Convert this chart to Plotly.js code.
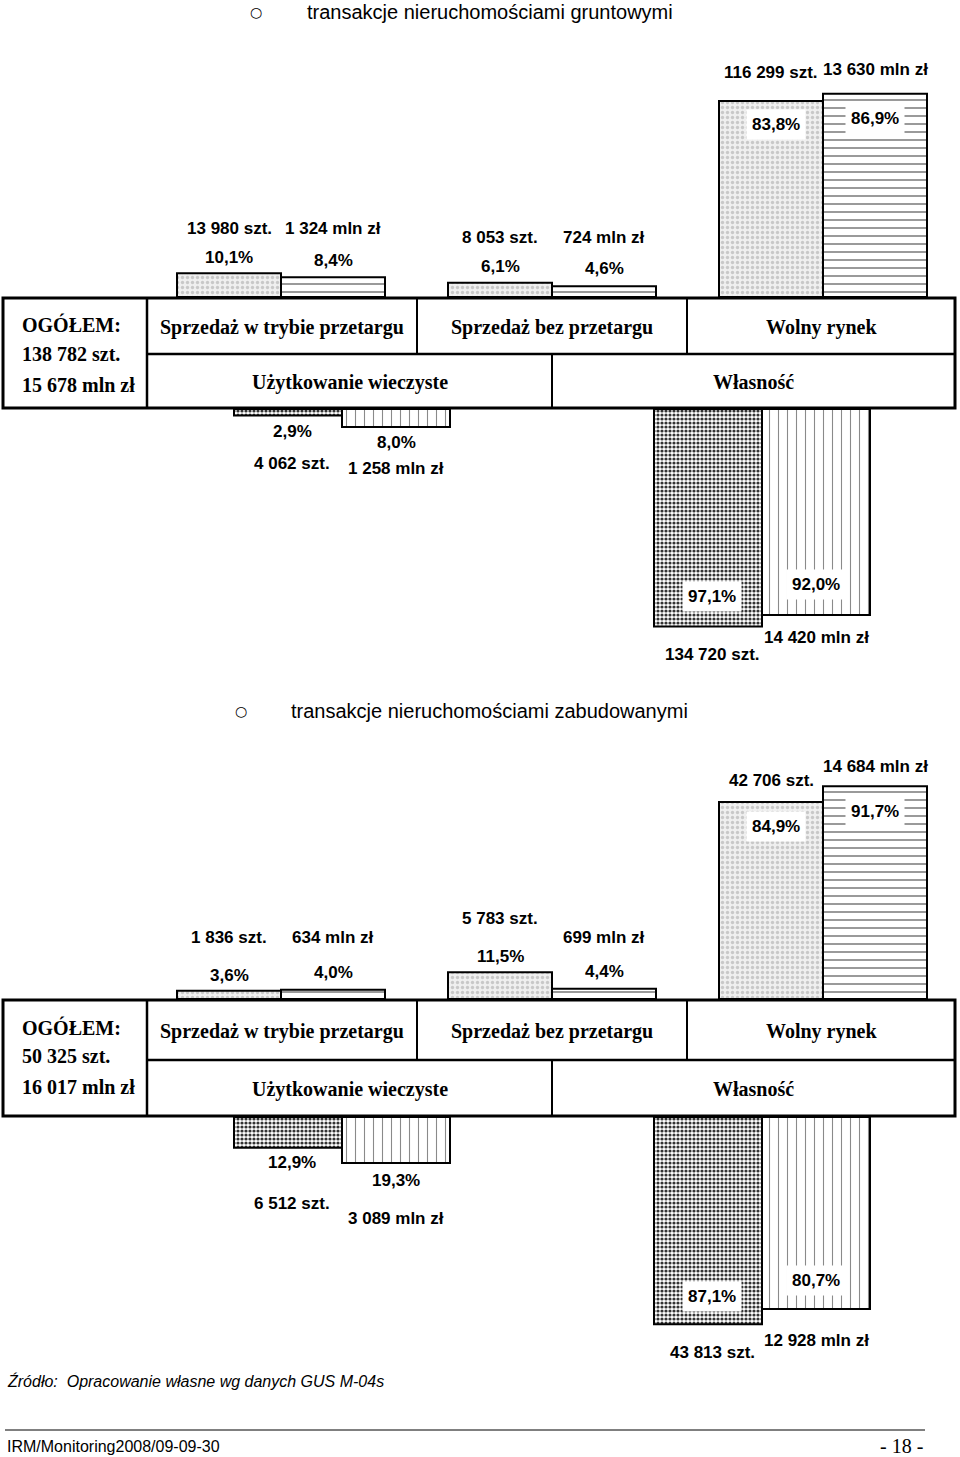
<!DOCTYPE html>
<html>
<head>
<meta charset="utf-8">
<script src="https://cdn.plot.ly/plotly-3.0.1.min.js"></script>
<style>
  html, body { margin: 0; padding: 0; background: #fff; }
  #chart { width: 960px; height: 1457px; }
</style>
</head>
<body>
<div id="chart"></div>
<script>
// ---- data ----
const groupsTop = ['Sprzedaż w trybie przetargu', 'Sprzedaż bez przetargu', 'Wolny rynek'];
const groupsBottom = ['Użytkowanie wieczyste', 'Własność'];

// nieruchomości gruntowe
const gruntSztTop = [13980, 8053, 116299];
const gruntSztTopPct = [10.1, 6.1, 83.8];
const gruntMlnTop = [1324, 724, 13630];
const gruntMlnTopPct = [8.4, 4.6, 86.9];
const gruntSztBottom = [4062, 134720];
const gruntSztBottomPct = [2.9, 97.1];
const gruntMlnBottom = [1258, 14420];
const gruntMlnBottomPct = [8.0, 92.0];
const gruntTotal = [138782, 15678];

// nieruchomości zabudowane
const zabSztTop = [1836, 5783, 42706];
const zabSztTopPct = [3.6, 11.5, 84.9];
const zabMlnTop = [634, 699, 14684];
const zabMlnTopPct = [4.0, 4.4, 91.7];
const zabSztBottom = [6512, 43813];
const zabSztBottomPct = [12.9, 87.1];
const zabMlnBottom = [3089, 12928];
const zabMlnBottomPct = [19.3, 80.7];
const zabTotal = [50325, 16017];

// ---- page geometry (pixels) ----
const W = 960, H = 1457;
const X = px => px / W;
const Y = py => 1 - py / H;

const fmt = n => n.toString().replace(/\B(?=(\d{3})+(?!\d))/g, ' ');
const pct = p => p.toFixed(1).replace('.', ',') + '%';

const sans = {family: 'Liberation Sans, Arial, sans-serif', size: 17, color: '#000', weight: 'bold'};
const serif = {family: 'Liberation Serif, Times New Roman, serif', size: 20, color: '#000', weight: 'bold'};

// bar fills
const fillTopSzt = {color: '#efefef', pattern: {shape: '.', fgcolor: '#c8c8c8', bgcolor: '#efefef', size: 5, solidity: 0.35}};
const fillTopMln = {color: '#ffffff', pattern: {shape: '-', fgcolor: '#8c8c8c', bgcolor: '#ffffff', size: 8, solidity: 0.22}};
const fillBotSzt = {color: '#ffffff', pattern: {shape: '.', fgcolor: '#333333', bgcolor: '#ffffff', size: 4, solidity: 0.5}};
const fillBotMln = {color: '#ffffff', pattern: {shape: '|', fgcolor: '#8a8a8a', bgcolor: '#ffffff', size: 9, solidity: 0.12}};

// category axes: upper groups every 271px starting at 281, lower every 420px starting at 342
const topStep = 271, topStart = 281, topBar = 104 / topStep;
const botStep = 420, botStart = 342, botBar = 108 / botStep;

function barTrace(cats, vals, fill, xa, ya, off, w) {
  return {
    type: 'bar', x: cats, y: vals, xaxis: xa, yaxis: ya,
    width: w, offset: off,
    marker: {color: fill.color, pattern: fill.pattern, line: {color: '#000', width: 2}},
    hoverinfo: 'skip', showlegend: false
  };
}

const traces = [
  barTrace(groupsTop, gruntSztTopPct, fillTopSzt, 'x', 'y', -topBar, topBar),
  barTrace(groupsTop, gruntMlnTopPct, fillTopMln, 'x', 'y', 0, topBar),
  barTrace(groupsBottom, gruntSztBottomPct, fillBotSzt, 'x2', 'y2', -botBar, botBar),
  barTrace(groupsBottom, gruntMlnBottomPct, fillBotMln, 'x2', 'y2', 0, botBar),
  barTrace(groupsTop, zabSztTopPct, fillTopSzt, 'x3', 'y3', -topBar, topBar),
  barTrace(groupsTop, zabMlnTopPct, fillTopMln, 'x3', 'y3', 0, topBar),
  barTrace(groupsBottom, zabSztBottomPct, fillBotSzt, 'x4', 'y4', -botBar, botBar),
  barTrace(groupsBottom, zabMlnBottomPct, fillBotMln, 'x4', 'y4', 0, botBar)
];

function xAxis(step, start, anchor) {
  return {type: 'category', domain: [0, 1], range: [-start / step, (W - start) / step],
          visible: false, fixedrange: true, anchor: anchor};
}
// y axis from pixel band: base = bar baseline, far = end of band, scale px per percent
function yAxis(base, far, scale, anchor) {
  const top = Math.min(base, far), bot = Math.max(base, far);
  const span = Math.abs(far - base) / scale;
  return {domain: [Y(bot), Y(top)], range: far < base ? [0, span] : [span, 0],
          visible: false, fixedrange: true, anchor: anchor};
}

const annotations = [];
const shapes = [];

function note(text, xref, x, py, font, extra) {
  annotations.push(Object.assign({text: text, xref: xref, x: x, yref: 'paper', y: Y(py),
    showarrow: false, xanchor: 'center', yanchor: 'middle', font: font}, extra || {}));
}
const boxed = {bgcolor: '#ffffff', borderpad: 5};

// labels for one chart; pos holds pixel rows for every label
function labels(xTop, xBot, d, pos) {
  for (let i = 0; i < 3; i++) {
    const big = i === 2;
    note(fmt(d.sztTop[i]) + ' szt.', xTop, i - topBar / 2, pos.sztTop[i], sans);
    note(fmt(d.mlnTop[i]) + ' mln zł', xTop, i + topBar / 2, pos.mlnTop[i], sans);
    note(pct(d.sztTopPct[i]), xTop, i - topBar / 2 + (big ? 0.02 : 0), pos.sztTopPct[i], sans, big ? boxed : null);
    note(pct(d.mlnTopPct[i]), xTop, i + topBar / 2, pos.mlnTopPct[i], sans, big ? boxed : null);
  }
  for (let i = 0; i < 2; i++) {
    const big = i === 1;
    note(pct(d.sztBotPct[i]), xBot, i - botBar / 2 + 0.01, pos.sztBotPct[i], sans, big ? boxed : null);
    note(pct(d.mlnBotPct[i]), xBot, i + botBar / 2, pos.mlnBotPct[i], sans, big ? boxed : null);
    note(fmt(d.sztBot[i]) + ' szt.', xBot, i - botBar / 2 + 0.01, pos.sztBot[i], sans);
    note(fmt(d.mlnBot[i]) + ' mln zł', xBot, i + botBar / 2, pos.mlnBot[i], sans);
  }
}

function table(top, mid, bottom, total) {
  const L = 3, R = 955, c0 = 147, c1 = 417, c2 = 687, c3 = 552;
  const ln = (x0, y0, x1, y1, w) => shapes.push({type: 'line', xref: 'paper', yref: 'paper',
    x0: X(x0), y0: Y(y0), x1: X(x1), y1: Y(y1), line: {color: '#000', width: w}});
  shapes.push({type: 'rect', xref: 'paper', yref: 'paper', x0: X(L), x1: X(R), y0: Y(bottom), y1: Y(top),
    line: {color: '#000', width: 3}, fillcolor: 'rgba(0,0,0,0)'});
  ln(c0, top, c0, bottom, 2.5);
  ln(c0, mid, R, mid, 2.5);
  ln(c1, top, c1, mid, 2);
  ln(c2, top, c2, mid, 2);
  ln(c3, mid, c3, bottom, 2);
  const r1 = (top + mid) / 2 + 1, r2 = (mid + bottom) / 2 + 1;
  note(groupsTop[0], 'paper', X((c0 + c1) / 2), r1, serif);
  note(groupsTop[1], 'paper', X((c1 + c2) / 2), r1, serif);
  note(groupsTop[2], 'paper', X((c2 + R) / 2), r1, serif);
  note(groupsBottom[0], 'paper', X((c0 + c3) / 2), r2, serif);
  note(groupsBottom[1], 'paper', X((c3 + R) / 2), r2, serif);
  const left = {xanchor: 'left'};
  note('OGÓŁEM:', 'paper', X(20), top + 27, serif, left);
  note(fmt(total[0]) + ' szt.', 'paper', X(20), top + 56, serif, left);
  note(fmt(total[1]) + ' mln zł', 'paper', X(20), top + 87, serif, left);
}

function heading(text, xc, xt, py) {
  note('○', 'paper', X(xc), py, {family: 'DejaVu Sans, Arial', size: 14, color: '#000'});
  note(text, 'paper', X(xt), py, {family: 'Liberation Sans, Arial', size: 20, color: '#000'}, {xanchor: 'left'});
}

// chart 1: grunty
heading('transakcje nieruchomościami gruntowymi', 256, 305, 12);
table(298, 354, 408, gruntTotal);
labels('x', 'x2', {
  sztTop: gruntSztTop, mlnTop: gruntMlnTop, sztTopPct: gruntSztTopPct, mlnTopPct: gruntMlnTopPct,
  sztBot: gruntSztBottom, mlnBot: gruntMlnBottom, sztBotPct: gruntSztBottomPct, mlnBotPct: gruntMlnBottomPct
}, {
  sztTop: [228, 238, 72], mlnTop: [228, 238, 70], sztTopPct: [257, 267, 124], mlnTopPct: [261, 268, 118],
  sztBotPct: [431, 596], mlnBotPct: [442, 584], sztBot: [463, 654], mlnBot: [469, 638]
});

// chart 2: zabudowane
heading('transakcje nieruchomościami zabudowanymi', 241, 289, 711);
table(1000, 1060, 1116, zabTotal);
labels('x3', 'x4', {
  sztTop: zabSztTop, mlnTop: zabMlnTop, sztTopPct: zabSztTopPct, mlnTopPct: zabMlnTopPct,
  sztBot: zabSztBottom, mlnBot: zabMlnBottom, sztBotPct: zabSztBottomPct, mlnBotPct: zabMlnBottomPct
}, {
  sztTop: [937, 918, 780], mlnTop: [937, 938, 766], sztTopPct: [975, 956, 826], mlnTopPct: [972, 971, 811],
  sztBotPct: [1162, 1296], mlnBotPct: [1180, 1280], sztBot: [1203, 1352], mlnBot: [1218, 1340]
});

// footer
note('Źródło:  Opracowanie własne wg danych GUS M-04s', 'paper', X(5), 1381,
  {family: 'Liberation Sans, Arial', size: 16, color: '#000', style: 'italic'}, {xanchor: 'left'});
shapes.push({type: 'line', xref: 'paper', yref: 'paper', x0: X(5), x1: X(925), y0: Y(1430), y1: Y(1430),
  line: {color: '#000', width: 1}});
note('IRM/Monitoring2008/09-09-30', 'paper', X(5), 1446,
  {family: 'Liberation Sans, Arial', size: 16, color: '#000'}, {xanchor: 'left'});
note('- 18 -', 'paper', X(925), 1446,
  {family: 'Liberation Serif, Times New Roman', size: 20, color: '#000'}, {xanchor: 'right'});

const layout = {
  width: W, height: H,
  margin: {l: 0, r: 0, t: 0, b: 0},
  paper_bgcolor: '#fff', plot_bgcolor: 'rgba(0,0,0,0)',
  barmode: 'overlay', showlegend: false,
  xaxis: xAxis(topStep, topStart, 'y'),
  xaxis2: xAxis(botStep, botStart, 'y2'),
  xaxis3: xAxis(topStep, topStart, 'y3'),
  xaxis4: xAxis(botStep, botStart, 'y4'),
  yaxis: yAxis(297, 0, 2.34, 'x'),
  yaxis2: yAxis(409, 700, 2.24, 'x2'),
  yaxis3: yAxis(999, 700, 2.32, 'x3'),
  yaxis4: yAxis(1117, 1400, 2.38, 'x4'),
  shapes: shapes,
  annotations: annotations
};

Plotly.newPlot('chart', traces, layout, {displayModeBar: false, staticPlot: true});
</script>
</body>
</html>
